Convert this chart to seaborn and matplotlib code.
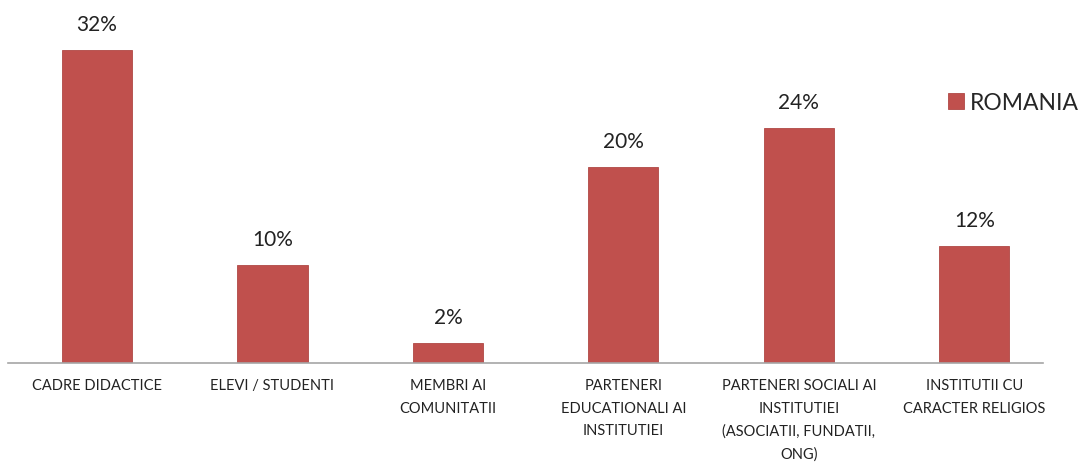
import pandas as pd
import numpy as np
import matplotlib
matplotlib.use("Agg")
import matplotlib.pyplot as plt
import seaborn as sns

categories = [
    "CADRE DIDACTICE",
    "ELEVI / STUDENTI",
    "MEMBRI AI\nCOMUNITATII",
    "PARTENERI\nEDUCATIONALI AI\nINSTITUTIEI",
    "PARTENERI SOCIALI AI\nINSTITUTIEI\n(ASOCIATII, FUNDATII,\nONG)",
    "INSTITUTII CU\nCARACTER RELIGIOS",
]
values = [32, 10, 2, 20, 24, 12]
series = ["ROMANIA"] * len(values)

df = pd.DataFrame({"category": categories, "value": values, "series": series})

sns.set_style("white")
plt.rcParams["font.family"] = ["Lato", "DejaVu Sans"]

fig = plt.figure(figsize=(10.83, 4.64), dpi=100)
bottom = 1 - 364 / 464
ax = fig.add_axes([0.0086, bottom, 0.972, 1 - bottom - 0.03])

sns.barplot(data=df, x="category", y="value", hue="series",
            palette=["#C0504D"], saturation=1, width=0.4,
            edgecolor="#B04845", linewidth=0.6, ax=ax)

ax.set_xlim(-0.5, 5.5)
ax.set_ylim(0, 35.8)

for i, v in enumerate(values):
    ax.annotate(f"{v}%", (i, v), xytext=(0, 11.5), textcoords="offset points",
                ha="center", va="bottom", fontsize=15, color="#222222")

ax.set_xlabel("")
ax.set_ylabel("")
ax.set_yticks([])
ax.tick_params(axis="x", length=0, pad=11, labelsize=10.5, colors="#222222")
for lbl in ax.get_xticklabels():
    lbl.set_linespacing(1.75)
    lbl.set_verticalalignment("top")

for s in ["left", "right", "top"]:
    ax.spines[s].set_visible(False)
ax.spines["bottom"].set_color("#A6A6A6")
ax.spines["bottom"].set_linewidth(1.2)
ax.spines["bottom"].set_bounds(-0.51, 5.39)

ax.legend(frameon=False, loc="center left", bbox_to_anchor=(0.8915, 0.745),
          fontsize=16.5, handlelength=0.7, handleheight=0.7,
          handletextpad=0.25, borderaxespad=0, borderpad=0)

fig.savefig("out.png", dpi=100)
